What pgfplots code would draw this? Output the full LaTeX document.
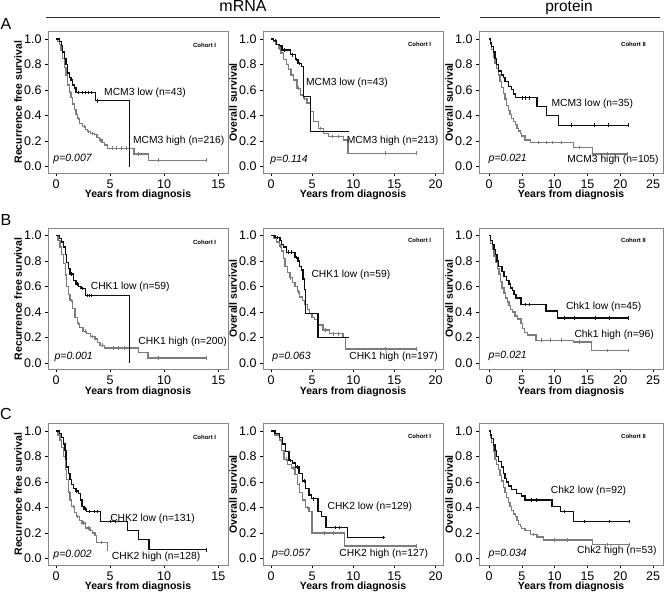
\documentclass[border=0pt]{standalone}
\usepackage{pgfplots}
\pgfplotsset{compat=1.18}
\usepackage{fontspec}
\setmainfont{Liberation Sans}
\definecolor{framegray}{RGB}{135,135,135}
\definecolor{curvegray}{RGB}{125,125,125}
\definecolor{curveblack}{RGB}{15,15,15}
\pgfplotsset{
 km/.style={scale only axis, height=141.5pt, ymin=-0.05, ymax=1.06,
  ytick={0,0.2,0.4,0.6,0.8,1.0},
  /pgf/number format/assume math mode=true,
  yticklabel style={/pgf/number format/.cd, fixed, fixed zerofill, precision=1, assume math mode=true},
  axis line style={draw=framegray, line width=0.9pt},
  tick align=outside, xtick pos=left, ytick pos=left, major tick length=3pt,
  tick style={black, line width=0.6pt},
  ticklabel style={font=\fontsize{12.5}{13}\selectfont},
  every axis x label/.style={at={(axis description cs:0.5,0)}, yshift=-22pt, anchor=center, font=\bfseries\fontsize{10.5}{12}\selectfont},
  every axis y label/.style={at={(axis description cs:0,0.5)}, xshift=-30pt, rotate=90, anchor=center, font=\bfseries\fontsize{10.5}{12}\selectfont},
  xlabel={Years from diagnosis}, clip=false},
 col1/.style={km, width=180pt, xmin=-0.74, xmax=15.9, xtick={0,5,10,15}, ylabel={Recurrence free survival}},
 col2/.style={km, width=180pt, xmin=-0.97, xmax=20.9, xtick={0,5,10,15,20}, ylabel={Overall survival}},
 col3/.style={km, width=184pt, xmin=-1.52, xmax=26.5, xtick={0,5,10,15,20,25}, ylabel={Overall survival}},
 lowc/.style={const plot, no marks, line width=1.35pt, curveblack},
 highc/.style={const plot, no marks, line width=1.35pt, curvegray},
 cenlow/.style={only marks, mark=|, mark size=1.8pt, curveblack, mark options={line width=0.6pt}},
 cenhigh/.style={only marks, mark=|, mark size=1.8pt, curvegray, mark options={line width=0.6pt}},
}
\newcommand{\ann}{\fontsize{10.3}{12}\selectfont}
\newcommand{\pv}{\itshape\fontsize{10.5}{12}\selectfont}
\newcommand{\coh}{\bfseries\fontsize{6}{7}\selectfont}
\begin{document}
\begin{tikzpicture}
\path[use as bounding box] (0,0) rectangle (664pt,592pt);
% header
\node[anchor=base, font=\fontsize{16}{18}\selectfont] at (243pt,580pt) {mRNA};
\node[anchor=base, font=\fontsize{15.5}{18}\selectfont] at (569pt,580pt) {protein};
\draw[black!80, line width=0.8pt] (46pt,574.5pt) -- (440pt,574.5pt);
\draw[black!80, line width=0.8pt] (480pt,574.5pt) -- (660pt,574.5pt);
\node[font=\fontsize{16}{18}\selectfont] at (6pt,568pt) {A};
\node[font=\fontsize{16}{18}\selectfont] at (6pt,372pt) {B};
\node[font=\fontsize{16}{18}\selectfont] at (6pt,178pt) {C};

% ---------------- Row A ----------------
\begin{axis}[col1, at={(48pt,419pt)}, anchor=south west]
\addplot[highc] table {
0 1
0.15 0.98
0.3 0.96
0.45 0.91
0.62 0.85
0.78 0.78
0.93 0.72
1.08 0.64
1.25 0.58
1.39 0.54
1.55 0.49
1.7 0.446
1.85 0.41
2.0 0.376
2.2 0.34
2.47 0.315
2.7 0.29
2.93 0.276
3.2 0.26
3.55 0.25
3.8 0.23
4.0 0.21
4.25 0.19
4.47 0.17
4.78 0.144
7.2 0.1
8.55 0.05
14.0 0.05
};
\addplot[cenhigh] table {
1.3 0.58
2.1 0.376
2.6 0.315
3.0 0.276
3.4 0.26
4.1 0.21
5.2 0.144
5.6 0.144
6.0 0.144
6.5 0.144
7.6 0.1
9.5 0.05
13.9 0.05
};
\addplot[lowc] table {
0 1
0.3 0.98
0.5 0.95
0.62 0.9
0.8 0.85
0.93 0.8
1.08 0.735
1.25 0.7
1.39 0.68
1.55 0.64
1.7 0.617
1.85 0.583
3.64 0.517
6.79 0.0
};
\addplot[cenlow] table {
2.1 0.583
2.4 0.583
2.7 0.583
3.0 0.583
3.3 0.583
3.8 0.517
};
\node[anchor=west, inner sep=0pt, font=\ann] at (axis cs:4.44,0.58) {MCM3 low (n=43)};
\node[anchor=west, inner sep=0pt, font=\ann] at (axis cs:7.1,0.2) {MCM3 high (n=216)};
\node[anchor=west, inner sep=0pt, font=\pv] at (axis cs:-0.25,0.06) {p=0.007};
\node[font=\coh] at (rel axis cs:0.87,0.9) {Cohort I};
\end{axis}

\begin{axis}[col2, at={(263pt,419pt)}, anchor=south west]
\addplot[highc] table {
0 1
0.3 0.98
0.6 0.96
0.93 0.93
1.2 0.89
1.54 0.84
1.85 0.8
2.15 0.76
2.45 0.72
2.75 0.68
3.16 0.615
3.56 0.563
3.96 0.535
4.37 0.5
4.77 0.43
5.17 0.353
5.78 0.3
6.39 0.26
7.0 0.235
8.8 0.21
9.35 0.105
17.8 0.105
};
\addplot[cenhigh] table {
1.0 0.93
2.3 0.76
3.3 0.615
4.1 0.535
6.0 0.3
7.5 0.235
8.2 0.235
13.9 0.105
17.7 0.105
};
\addplot[lowc] table {
0 1
0.33 0.99
0.7 0.96
1.0 0.945
1.33 0.916
2.35 0.877
2.95 0.84
3.3 0.81
3.68 0.785
3.96 0.55
4.77 0.275
9.5 0.275
};
\addplot[cenlow] table {
0.5 0.99
1.6 0.916
2.6 0.877
3.1 0.84
3.5 0.81
};
\node[anchor=west, inner sep=0pt, font=\ann] at (axis cs:4.25,0.655) {MCM3 low (n=43)};
\node[anchor=west, inner sep=0pt, font=\ann] at (axis cs:9.2,0.2) {MCM3 high (n=213)};
\node[anchor=west, inner sep=0pt, font=\pv] at (axis cs:-0.1,0.05) {p=0.114};
\node[font=\coh] at (rel axis cs:0.87,0.91) {Cohort I};
\end{axis}

\begin{axis}[col3, at={(479pt,419pt)}, anchor=south west]
\addplot[highc] table {
0 1
0.2 0.96
0.4 0.92
0.65 0.86
0.92 0.81
1.15 0.77
1.43 0.72
1.7 0.67
1.94 0.62
2.2 0.575
2.45 0.53
2.7 0.48
2.96 0.44
3.2 0.41
3.47 0.38
3.75 0.355
4.0 0.33
4.25 0.3
4.5 0.28
4.75 0.26
5.0 0.24
5.5 0.21
6.3 0.19
12.9 0.15
15.8 0.1
21.2 0.1
};
\addplot[cenhigh] table {
7.5 0.19
8.7 0.19
9.6 0.19
11.0 0.19
13.8 0.15
18.0 0.1
21.1 0.1
};
\addplot[lowc] table {
0 1
0.2 0.97
0.4 0.94
0.65 0.9
0.92 0.85
1.15 0.8
1.43 0.75
1.94 0.72
2.2 0.7
2.45 0.67
2.96 0.63
3.47 0.605
3.75 0.57
4.0 0.54
7.3 0.47
8.8 0.4
10.6 0.325
21.3 0.325
};
\addplot[cenlow] table {
5.0 0.54
5.6 0.54
6.1 0.54
12.6 0.325
16.0 0.325
18.2 0.325
21.2 0.325
};
\node[anchor=west, inner sep=0pt, font=\ann] at (axis cs:9.5,0.49) {MCM3 low (n=35)};
\node[anchor=west, inner sep=0pt, font=\ann] at (axis cs:11.9,0.05) {MCM3 high (n=105)};
\node[anchor=west, inner sep=0pt, font=\pv] at (axis cs:-0.1,0.06) {p=0.021};
\node[font=\coh] at (rel axis cs:0.84,0.91) {Cohort II};
\end{axis}

% ---------------- Row B ----------------
\begin{axis}[col1, at={(48pt,222.5pt)}, anchor=south west]
\addplot[highc] table {
0 1
0.2 0.96
0.37 0.91
0.52 0.85
0.68 0.78
0.85 0.69
1.0 0.6
1.15 0.54
1.3 0.49
1.5 0.43
1.76 0.36
2.0 0.31
2.2 0.28
2.5 0.25
2.84 0.23
3.2 0.21
3.6 0.19
3.85 0.16
4.07 0.14
4.5 0.12
7.6 0.085
8.5 0.04
14.0 0.04
};
\addplot[cenhigh] table {
1.4 0.49
2.1 0.31
2.7 0.25
3.4 0.21
4.3 0.14
5.3 0.12
5.8 0.12
6.3 0.12
9.5 0.04
13.9 0.04
};
\addplot[lowc] table {
0 1
0.3 0.98
0.5 0.95
0.68 0.91
0.85 0.85
1.0 0.79
1.15 0.74
1.3 0.7
1.6 0.65
1.85 0.62
2.07 0.6
2.3 0.585
2.7 0.53
6.8 0.0
};
\addplot[cenlow] table {
1.4 0.7
2.0 0.62
2.4 0.585
2.9 0.53
3.1 0.53
3.3 0.53
};
\node[anchor=west, inner sep=0pt, font=\ann] at (axis cs:3.2,0.6) {CHK1 low (n=59)};
\node[anchor=west, inner sep=0pt, font=\ann] at (axis cs:7.6,0.165) {CHK1 high (n=200)};
\node[anchor=west, inner sep=0pt, font=\pv] at (axis cs:-0.15,0.047) {p=0.001};
\node[font=\coh] at (rel axis cs:0.87,0.9) {Cohort I};
\end{axis}

\begin{axis}[col2, at={(263pt,222.5pt)}, anchor=south west]
\addplot[highc] table {
0 1
0.3 0.98
0.7 0.95
1.0 0.92
1.3 0.88
1.5 0.82
1.7 0.76
2.0 0.71
2.3 0.67
2.6 0.63
2.9 0.6
3.2 0.56
3.5 0.52
3.8 0.49
4.1 0.46
4.4 0.42
4.7 0.39
5.0 0.36
5.3 0.34
5.7 0.3
6.3 0.26
7.1 0.23
8.75 0.2
9.07 0.11
17.7 0.11
};
\addplot[cenhigh] table {
1.1 0.92
2.4 0.67
3.3 0.56
6.6 0.26
7.6 0.23
8.2 0.23
13.9 0.11
17.6 0.11
};
\addplot[lowc] table {
0 1
0.5 0.987
1.1 0.96
1.3 0.93
1.5 0.91
1.9 0.87
2.9 0.83
3.3 0.8
3.5 0.76
3.7 0.73
3.9 0.66
4.1 0.58
4.23 0.39
5.73 0.2
9.5 0.2
};
\addplot[cenlow] table {
0.8 0.987
2.1 0.87
2.5 0.87
3.1 0.83
};
\node[anchor=west, inner sep=0pt, font=\ann] at (axis cs:4.9,0.695) {CHK1 low (n=59)};
\node[anchor=west, inner sep=0pt, font=\ann] at (axis cs:9.5,0.053) {CHK1 high (n=197)};
\node[anchor=west, inner sep=0pt, font=\pv] at (axis cs:0.15,0.045) {p=0.063};
\node[font=\coh] at (rel axis cs:0.87,0.91) {Cohort I};
\end{axis}

\begin{axis}[col3, at={(479pt,222.5pt)}, anchor=south west]
\addplot[highc] table {
0 1
0.25 0.94
0.5 0.89
0.75 0.84
1.0 0.79
1.25 0.74
1.5 0.7
1.75 0.64
2.0 0.59
2.3 0.55
2.55 0.51
2.8 0.48
3.06 0.45
3.3 0.42
3.57 0.4
3.95 0.37
4.34 0.345
4.85 0.31
5.1 0.27
5.36 0.24
5.87 0.22
7.14 0.18
12.9 0.165
15.6 0.1
21.3 0.1
};
\addplot[cenhigh] table {
8.0 0.18
9.4 0.18
11.0 0.18
13.8 0.165
18.0 0.1
21.2 0.1
};
\addplot[lowc] table {
0 1
0.25 0.96
0.5 0.93
0.75 0.89
1.0 0.85
1.2 0.8
1.43 0.76
2.0 0.72
2.3 0.68
2.7 0.65
3.06 0.62
3.3 0.59
3.57 0.57
3.8 0.54
4.1 0.51
4.85 0.46
8.67 0.41
10.46 0.355
21.3 0.355
};
\addplot[cenlow] table {
5.6 0.46
6.1 0.46
11.5 0.355
13.0 0.355
16.2 0.355
18.3 0.355
21.2 0.355
};
\node[anchor=west, inner sep=0pt, font=\ann] at (axis cs:11.7,0.44) {Chk1 low (n=45)};
\node[anchor=west, inner sep=0pt, font=\ann] at (axis cs:13.0,0.22) {Chk1 high (n=96)};
\node[anchor=west, inner sep=0pt, font=\pv] at (axis cs:-0.1,0.055) {p=0.021};
\node[font=\coh] at (rel axis cs:0.84,0.91) {Cohort II};
\end{axis}

% ---------------- Row C ----------------
\begin{axis}[col1, at={(48pt,27pt)}, anchor=south west]
\addplot[highc] table {
0 1
0.2 0.97
0.37 0.93
0.52 0.87
0.68 0.8
0.85 0.7
1.0 0.62
1.14 0.52
1.3 0.46
1.45 0.41
1.7 0.36
1.9 0.33
2.15 0.3
2.4 0.28
2.7 0.24
3.15 0.22
3.4 0.2
3.6 0.18
3.77 0.125
4.75 0.06
};
\addplot[cenhigh] table {
1.2 0.52
1.6 0.41
2.0 0.33
2.5 0.28
3.0 0.24
4.2 0.125
};
\addplot[lowc] table {
0 1
0.3 0.98
0.52 0.95
0.7 0.9
0.83 0.85
0.93 0.78
1.0 0.72
1.15 0.67
1.3 0.62
1.45 0.58
1.6 0.55
1.85 0.53
2.07 0.51
2.25 0.46
2.4 0.41
2.6 0.39
2.84 0.37
4.14 0.29
6.6 0.22
7.6 0.15
8.6 0.07
14.0 0.07
};
\addplot[cenlow] table {
1.9 0.53
2.7 0.39
3.1 0.37
3.5 0.37
3.8 0.37
5.0 0.29
5.5 0.29
13.9 0.07
};
\node[anchor=west, inner sep=0pt, font=\ann] at (axis cs:5.0,0.31) {CHK2 low (n=131)};
\node[anchor=west, inner sep=0pt, font=\ann] at (axis cs:5.15,0.013) {CHK2 high (n=128)};
\node[anchor=west, inner sep=0pt, font=\pv] at (axis cs:-0.25,0.03) {p=0.002};
\node[font=\coh] at (rel axis cs:0.87,0.9) {Cohort I};
\end{axis}

\begin{axis}[col2, at={(263pt,27pt)}, anchor=south west]
\addplot[highc] table {
0 1
0.5 0.97
1.0 0.93
1.3 0.85
1.6 0.78
2.0 0.74
2.5 0.71
2.9 0.66
3.2 0.58
3.5 0.52
3.8 0.46
4.2 0.4
4.6 0.37
5.0 0.2
8.9 0.1
17.8 0.1
};
\addplot[cenhigh] table {
1.8 0.78
2.7 0.71
3.4 0.58
4.4 0.4
6.5 0.2
7.6 0.2
17.7 0.1
};
\addplot[lowc] table {
0 1
0.5 0.98
1.0 0.95
1.4 0.9
1.8 0.84
2.2 0.77
2.6 0.75
3.0 0.72
3.4 0.67
3.8 0.61
4.2 0.55
4.6 0.5
4.9 0.47
5.7 0.37
6.1 0.33
6.7 0.245
9.3 0.165
13.8 0.165
};
\addplot[cenlow] table {
2.4 0.77
3.2 0.72
4.0 0.61
5.2 0.47
7.8 0.245
8.3 0.245
13.7 0.165
};
\node[anchor=west, inner sep=0pt, font=\ann] at (axis cs:6.85,0.41) {CHK2 low (n=129)};
\node[anchor=west, inner sep=0pt, font=\ann] at (axis cs:8.3,0.034) {CHK2 high (n=127)};
\node[anchor=west, inner sep=0pt, font=\pv] at (axis cs:0.1,0.034) {p=0.057};
\node[font=\coh] at (rel axis cs:0.87,0.91) {Cohort I};
\end{axis}

\begin{axis}[col3, at={(479pt,27pt)}, anchor=south west]
\addplot[highc] table {
0 1
0.2 0.95
0.4 0.91
0.65 0.84
0.92 0.78
1.15 0.74
1.43 0.7
1.7 0.65
1.94 0.61
2.2 0.56
2.45 0.52
2.7 0.48
2.96 0.44
3.2 0.41
3.47 0.38
3.75 0.35
4.0 0.33
4.25 0.3
4.5 0.27
4.75 0.25
5.0 0.235
5.5 0.22
6.3 0.19
7.3 0.17
8.3 0.145
15.8 0.11
21.4 0.11
};
\addplot[cenhigh] table {
6.8 0.19
10.0 0.145
12.0 0.145
18.0 0.11
21.3 0.11
};
\addplot[lowc] table {
0 1
0.2 0.97
0.4 0.94
0.65 0.89
0.92 0.85
1.15 0.8
1.43 0.76
1.94 0.72
2.2 0.67
2.45 0.63
2.7 0.6
2.96 0.57
3.47 0.54
4.2 0.51
5.0 0.49
5.5 0.46
9.6 0.41
10.9 0.37
12.9 0.29
21.4 0.29
};
\addplot[cenlow] table {
6.5 0.46
7.2 0.46
11.5 0.37
14.5 0.29
18.3 0.29
21.3 0.29
};
\node[anchor=west, inner sep=0pt, font=\ann] at (axis cs:9.4,0.53) {Chk2 low (n=92)};
\node[anchor=west, inner sep=0pt, font=\ann] at (axis cs:13.4,0.06) {Chk2 high (n=53)};
\node[anchor=west, inner sep=0pt, font=\pv] at (axis cs:-0.1,0.04) {p=0.034};
\node[font=\coh] at (rel axis cs:0.84,0.91) {Cohort II};
\end{axis}
\end{tikzpicture}
\end{document}
